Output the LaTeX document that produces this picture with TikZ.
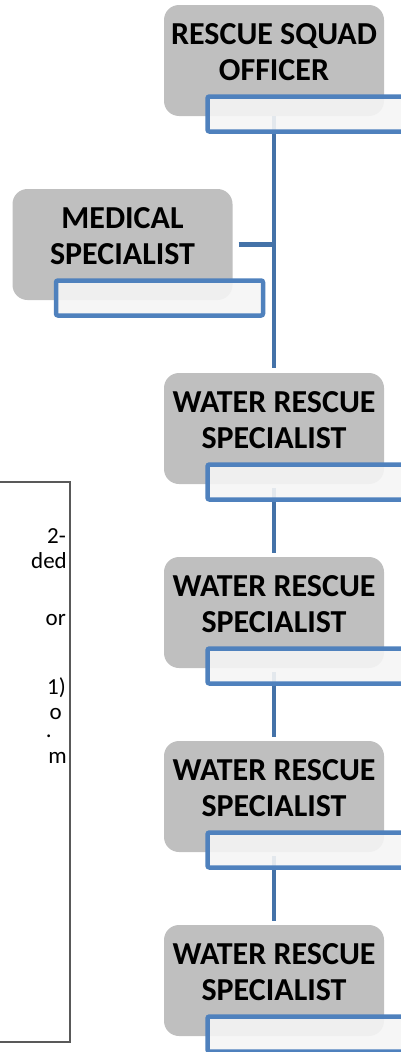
\documentclass[tikz,border=0pt]{standalone}
\usepackage{fontspec}
\setmainfont{Carlito}
\usetikzlibrary{positioning}

\definecolor{boxgray}{HTML}{BFBFBF}
\definecolor{lineblue}{HTML}{4F81BD}
\definecolor{linkblue}{HTML}{4472A8}
\definecolor{framegray}{HTML}{595959}

\begin{document}
\begin{tikzpicture}[x=1pt,y=-1pt,
    shapebox/.style={fill=boxgray,rounded corners=15pt,minimum width=220pt,minimum height=111pt,inner sep=0pt,outer sep=0pt},
    title/.style={font=\fontsize{32}{36}\selectfont\bfseries,align=center,inner sep=0pt},
    namebox/.style={draw=lineblue,line width=4.5pt,fill=white!96!black,fill opacity=0.9,rounded corners=2pt,minimum width=207pt,minimum height=35pt,inner sep=0pt,outer sep=0pt,anchor=north west},
    link/.style={draw=linkblue,line width=4.5pt},
    note/.style={font=\fontsize{23}{28}\selectfont,anchor=east,inner sep=0pt}]
    \useasboundingbox (0,0) rectangle (401,1052);
    \clip (0,0) rectangle (401,1052);

    % gray boxes
    \node[shapebox] (officer) at (274,60.5) {};
    \node[title] (officerT) at ([yshift=8pt]officer.center) {RESCUE SQUAD\\OFFICER};
    \node[shapebox] (medical) at (122.5,244.5) {};
    \node[title] (medicalT) at ([yshift=8pt]medical.center) {MEDICAL\\SPECIALIST};
    \foreach \i/\top in {1/373,2/557,3/741,4/925} {
        \node[shapebox] (water\i) at (274,{\top+55.5}) {};
        \node[title] (water\i T) at ([yshift=8pt]water\i.center) {WATER RESCUE\\SPECIALIST};
    }

    % connectors
    \draw[link,shorten >=5pt] (officer) -- (water1);
    \draw[link,shorten <=6pt] (medical) -- (medical -| officer);
    \foreach \i/\j in {1/2,2/3,3/4}
        \draw[link,shorten <=4pt,shorten >=4pt] (water\i) -- (water\j);

    % name fields
    \node[namebox] (officerN) at ([xshift=43.5pt,yshift=-91.5pt]officer.north west) {};
    \node[namebox] (medicalN) at ([xshift=43.5pt,yshift=-91.5pt]medical.north west) {};
    \foreach \i in {1,2,3,4}
        \node[namebox] (water\i N) at ([xshift=43.5pt,yshift=-91.5pt]water\i.north west) {};

    % note frame, cut off at the left
    \node[draw=framegray,line width=2.5pt,minimum width=300pt,minimum height=560pt,outer sep=0pt,anchor=north east] (notebox) at (70,482) {};
    \node[note] (note1) at (66,536) {2-};
    \node[note] (note2) at (67,561) {ded};
    \node[note] (note3) at (66,620) {or};
    \node[note] (note4) at (66,688) {1)};
    \node[note] (note5) at (62,714) {o};
    \node[note] (note6) at (52,736) {.};
    \node[note] (note7) at (67,758) {m};
\end{tikzpicture}
\end{document}
